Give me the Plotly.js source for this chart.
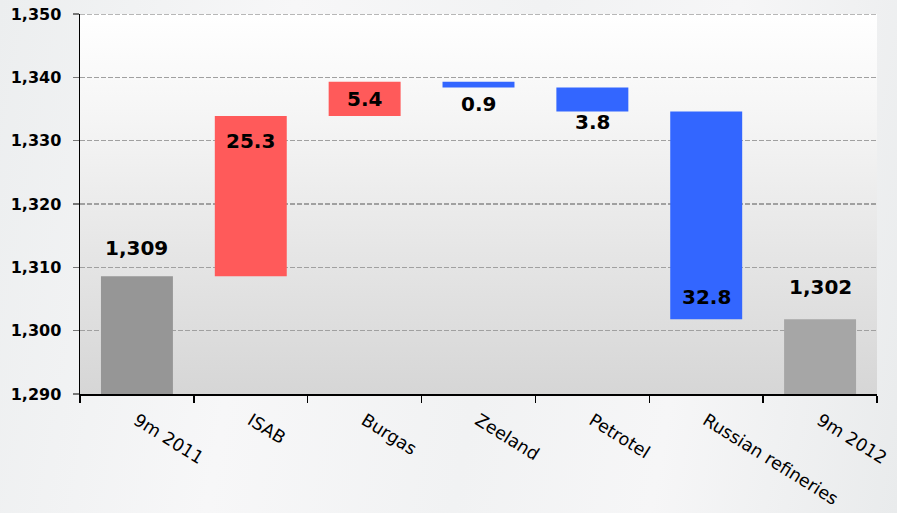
<!DOCTYPE html>
<html>
<head>
<meta charset="utf-8">
<script src="https://cdn.plot.ly/plotly-3.0.1.min.js"></script>
<style>
  html, body { margin: 0; padding: 0; }
  body {
    width: 897px; height: 513px; overflow: hidden; position: relative;
    background: linear-gradient(100deg, #eceeef 0%, #f7f7f8 30%, #f1f2f3 55%, #f6f6f7 75%, #e9ebec 100%);
  }
  #bg {
    position: absolute; left: 80px; top: 14px; width: 797px; height: 380px;
    background: linear-gradient(to bottom, #ffffff 0%, #f6f6f6 25%, #e9e9e9 55%, #d6d6d6 100%);
  }
  #chart { position: absolute; left: 0; top: 0; width: 897px; height: 513px; }
</style>
</head>
<body>
<div id="bg"></div>
<div id="chart"></div>
<script>
// ---- data ----
const categories = ["9m 2011", "ISAB", "Burgas", "Zeeland", "Petrotel", "Russian refineries", "9m 2012"];
const startTotal = 1308.6;
const changes = [25.3, 5.4, -0.9, -3.8, -32.8];
const endTotal = 1301.8;
const labels = ["1,309", "25.3", "5.4", "0.9", "3.8", "32.8", "1,302"];
const yMin = 1290, yMax = 1350, yStep = 10;

// ---- styles ----
const colTotal1 = "#969696", colTotal2 = "#a6a6a6", colUp = "#ff5a5a", colDown = "#3366ff";
// label placement: [reference edge, pixel shift]
const placement = [["top", 28], ["top", -25], ["mid", 0], ["bottom", -17], ["bottom", -10], ["bottom", 22], ["top", 32]];

// build bars
const bases = [], heights = [], colors = [];
bases.push(0); heights.push(startTotal); colors.push(colTotal1);
let running = startTotal;
changes.forEach(d => {
  bases.push(running); heights.push(d); colors.push(d >= 0 ? colUp : colDown);
  running += d;
});
bases.push(0); heights.push(endTotal); colors.push(colTotal2);

const annotations = categories.map((c, i) => {
  const a = bases[i], b = bases[i] + heights[i];
  const top = Math.max(a, b), bot = Math.min(a, b);
  const [edge, shift] = placement[i];
  const yv = edge === "top" ? top : edge === "bottom" ? bot : (top + bot) / 2;
  return {
    x: c, y: yv, xref: "x", yref: "y", text: labels[i], showarrow: false,
    yshift: shift, font: { family: "DejaVu Sans", size: 20, color: "#000", weight: "bold" }
  };
});

const trace = {
  type: "bar", x: categories, y: heights, base: bases,
  marker: { color: colors, line: { width: 0 } },
  hoverinfo: "skip", cliponaxis: true
};

const gridDash = "5px,2px";
const layout = {
  width: 897, height: 513,
  margin: { l: 80, r: 20, t: 14, b: 119 },
  paper_bgcolor: "rgba(0,0,0,0)", plot_bgcolor: "rgba(0,0,0,0)",
  showlegend: false, bargap: 0.368,
  font: { family: "DejaVu Sans", color: "#000" },
  xaxis: {
    type: "category", tickson: "boundaries", ticks: "outside", ticklen: 7, tickwidth: 1.5, tickcolor: "#000",
    showline: true, linecolor: "#000", linewidth: 1.5, showgrid: false,
    tickangle: 32, ticklabelstandoff: 8,
    tickfont: { family: "DejaVu Sans", size: 17.5, color: "#000" }
  },
  yaxis: {
    range: [yMin, yMax], dtick: yStep, tick0: yMin, tickformat: ",d",
    ticks: "outside", ticklen: 6, tickwidth: 1.5, tickcolor: "#777",
    ticklabelstandoff: 8,
    showline: true, linecolor: "#000", linewidth: 1.5,
    showgrid: true, gridcolor: "#a0a0a0", gridwidth: 1.5, griddash: gridDash,
    zeroline: false,
    tickfont: { family: "DejaVu Sans", size: 16, color: "#000", weight: "bold" }
  },
  shapes: [{
    type: "line", xref: "paper", yref: "y", x0: 0, x1: 1, y0: yMax, y1: yMax,
    line: { color: "#a0a0a0", width: 1.5, dash: gridDash }, layer: "below"
  }],
  annotations: annotations
};

Plotly.newPlot("chart", [trace], layout, { staticPlot: true, displayModeBar: false });
</script>
</body>
</html>
